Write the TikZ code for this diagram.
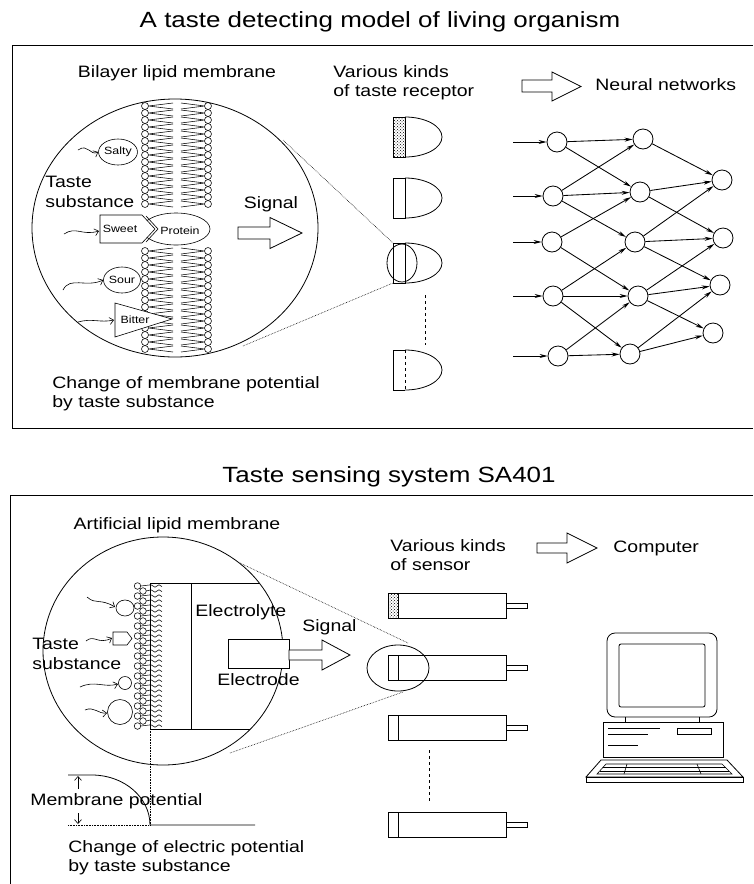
\documentclass[tikz,border=0pt]{standalone}
\usepackage{fontspec}
\setmainfont{Liberation Sans}[FakeStretch=1.18]
\usetikzlibrary{arrows.meta,patterns,shapes.geometric}

\begin{document}
\begin{tikzpicture}[x=1pt,y=-1pt,
  line width=0.8pt,
  lbl/.style={font=\fontsize{16.5}{19.5}\selectfont, inner sep=0pt, align=left},
  ttl/.style={font=\fontsize{22}{26}\selectfont, inner sep=0pt},
  tag/.style={font=\fontsize{10.5}{12}\selectfont, inner sep=0pt},
  neuron/.style={circle, draw, line width=0.8pt, minimum size=20pt, inner sep=0pt},
  nn/.style={-{Stealth[length=8pt,width=4pt]}, line width=0.85pt},
  wavy/.style={-{Straight Barb[length=4pt,width=7pt]}, line width=0.6pt},
  zoomline/.style={densely dotted, line width=0.6pt},
  lipid/.style={line width=0.55pt},
  hollow/.style={draw, line width=0.8pt, fill=white},
]
\useasboundingbox (0,0) rectangle (753,884);

% ---------------- titles and frames ----------------
\node[ttl] (title1) at (380,22) {A taste detecting model of living organism};
\node[ttl] (title2) at (389,477) {Taste sensing system SA401};
\draw (753,45) -- (12,45) -- (12,428) -- (753,428);
\draw (753,495) -- (10,495) -- (10,884);

% ================= living organism =================
\draw (175,228) ellipse [x radius=143, y radius=129];
\node[lbl] (bilayer) at (177,73) {Bilayer lipid membrane};

% lipid bilayer, upper and lower patches
\foreach \ya in {106,251}{
  \foreach \k in {0,...,14}{
    \pgfmathsetmacro\yy{\ya+\k*7}
    \draw[lipid] (145,\yy) circle[radius=3.5];
    \draw[lipid] (148.5,\yy) -- (173,\yy-3) (148.5,\yy) -- (173,\yy+3);
    \draw[lipid] (208,\yy) circle[radius=3.5];
    \draw[lipid] (204.5,\yy) -- (181,\yy-3) (204.5,\yy) -- (181,\yy+3);
  }
}

% taste substances
\node[draw, ellipse, minimum width=34pt, minimum height=26pt, inner sep=0pt, line width=0.6pt, tag] (salty) at (118,152) {Salty};
\node[draw, ellipse, minimum width=68pt, minimum height=32pt, inner sep=0pt, line width=0.6pt, fill=white] (protein) at (176,229) {};
\node[tag] (proteintxt) at (180,231) {Protein};
\draw[line width=0.6pt, fill=white] (100,215) -- (142,215) -- (155,229) -- (142,243) -- (100,243) -- cycle;
\draw[line width=0.6pt] (146,216) -- (158,229) -- (146,242);
\node[tag] (sweet) at (120,229) {Sweet};
\node[draw, ellipse, minimum width=34pt, minimum height=26pt, inner sep=0pt, line width=0.6pt, tag] (sour) at (122,280) {Sour};
\draw[line width=0.6pt, fill=white] (115,303) -- (172,319) -- (115,337) -- cycle;
\node[tag] (bitter) at (135,320) {Bitter};

\coordinate (w1) at (78,150);
\coordinate (w2) at (64,234);
\coordinate (w3) at (63,290);
\coordinate (w4) at (78,322);
\draw[wavy] (w1) .. controls (88,143) and (90,156) .. (salty.west);
\draw[wavy] (w2) .. controls (76,226) and (82,236) .. (99,231);
\draw[wavy] (w3) .. controls (70,276) and (86,288) .. (sour.west);
\draw[wavy] (w4) .. controls (92,318) and (100,323) .. (114,320);

\node[lbl, anchor=west] (taste1) at (45,192) {Taste\\substance};

% signal arrow
\draw[hollow] (238,227) -- (270,227) -- (270,217.5) -- (302,233) -- (270,248.5) -- (270,239) -- (238,239) -- cycle;
\node[lbl] (signal1) at (271,204) {Signal};

\node[lbl, anchor=west] (change1) at (52,393.5) {Change of membrane potential\\by taste substance};

% taste receptors
\node[lbl, anchor=west] (receptors) at (333,82.5) {Various kinds\\of taste receptor};
\foreach \ya/\nm in {117/r1,178/r2,243/r3,350/r4}{
  \coordinate (\nm) at (393,\ya);
  \draw (405,\ya) arc[start angle=-90, end angle=90, x radius=37, y radius=20];
}
\fill[pattern=crosshatch dots] (393,117) rectangle (405,157);
\foreach \ya in {117,178,243}{
  \draw (393,\ya) rectangle (405,\ya+40);
}
\draw (393,350) -- (405,350) (393,390) -- (405,390) (393,350) -- (393,390);
\draw[dashed, line width=0.6pt] (405,350) -- (405,390);
\draw (402,263) ellipse [x radius=15, y radius=19];
\draw[dashed] (425,295) -- (425,345);
\draw[zoomline] (283,140) -- (r3);
\draw[zoomline] (243,346) -- (393,283);

% neural network
\draw[hollow] (522,80) -- (552,80) -- (552,72) -- (581,86.5) -- (552,101) -- (552,92) -- (522,92) -- cycle;
\node[lbl, anchor=west] (nnlabel) at (595,85) {Neural networks};

\node[neuron] (a1) at (557,142) {};
\node[neuron] (a2) at (553,196) {};
\node[neuron] (a3) at (552,242) {};
\node[neuron] (a4) at (553,296) {};
\node[neuron] (a5) at (558,356) {};
\node[neuron] (b1) at (643,139) {};
\node[neuron] (b2) at (640,192) {};
\node[neuron] (b3) at (635,242) {};
\node[neuron] (b4) at (638,296) {};
\node[neuron] (b5) at (630,354) {};
\node[neuron] (c1) at (722,180) {};
\node[neuron] (c2) at (723,238) {};
\node[neuron] (c3) at (720,285) {};
\node[neuron] (c4) at (713,333) {};

\foreach \n/\yin in {a1/142,a2/196,a3/242,a4/296,a5/356}{
  \coordinate (in-\n) at (513,\yin);
  \draw[nn] (in-\n) -- (\n);
}
\foreach \src/\dst in {a1/b1,a1/b2,a2/b1,a2/b2,a2/b3,a3/b2,a3/b4,a4/b3,a4/b4,a4/b5,a5/b4,a5/b5,
                   b1/c1,b2/c1,b2/c2,b3/c1,b3/c2,b3/c3,b4/c2,b4/c3,b4/c4,b5/c3,b5/c4}{
  \draw[nn] (\src) -- (\dst);
}

% ================= taste sensing system =================
\draw (163,651) ellipse [x radius=120, y radius=114];
\node[lbl] (artificial) at (177,525) {Artificial lipid membrane};

% sensor body cut by the lens
\begin{scope}
  \clip (163,651) ellipse [x radius=120, y radius=114];
  \draw (150,583) -- (300,583) (150,729) -- (300,729);
\end{scope}
\draw (150,583) -- (150,729);
\draw (191,583) -- (191,729);

% artificial lipid layer
\foreach \k in {0,...,28}{
  \pgfmathsetmacro\yy{586+\k*5}
  \pgfmathsetmacro\xx{isodd(\k) ? 143 : 137.5}
  \draw[lipid] (\xx,\yy) circle[radius=3.3];
  \draw[lipid] (\xx+3.3,\yy) -- (151,\yy-1.2) -- (155,\yy+1.2) -- (159,\yy-1.2) -- (162,\yy+0.6);
}

% substances
\draw[line width=0.6pt, fill=white] (125,608) ellipse [x radius=9, y radius=8];
\draw[line width=0.6pt, fill=white] (113,632) -- (127,632) -- (132,638.5) -- (127,645) -- (113,645) -- cycle;
\draw[line width=0.6pt, fill=white] (125,683) circle[radius=6.5];
\draw[line width=0.6pt, fill=white] (120,712) circle[radius=12.5];
\coordinate (v1) at (87,597);
\coordinate (v2) at (86,641);
\coordinate (v3) at (80,687);
\coordinate (v4) at (85,710);
\draw[wavy] (v1) .. controls (96,605) and (100,598) .. (115,607);
\draw[wavy] (v2) .. controls (94,634) and (98,645) .. (112,638);
\draw[wavy] (v3) .. controls (95,680) and (104,688) .. (118,684);
\draw[wavy] (v4) .. controls (94,706) and (98,714) .. (107,713);

\node[lbl, anchor=west] (taste2) at (32,654) {Taste\\substance};
\node[lbl, anchor=west] (electrolyte) at (195,612) {Electrolyte};
\draw[fill=white] (228,639) rectangle (289,668);
\node[lbl, anchor=west] (electrode) at (217,680) {Electrode};
\draw[hollow] (289,650) -- (322,650) -- (322,640) -- (350,655) -- (322,670) -- (322,660) -- (289,660) -- cycle;
\node[lbl, anchor=west] (signal2) at (302,627) {Signal};

% membrane potential graph
\draw[densely dotted, line width=0.6pt] (150,729) -- (150,825);
\draw (68,775) -- (92,775) .. controls (124,775) and (150,797.4) .. (150,825) -- (255,825);
\draw[densely dotted, line width=0.6pt] (68,825) -- (150,825);
\draw[-{Straight Barb[length=4pt,width=7pt]}, line width=0.6pt] (78,789) -- (78,776);
\draw[-{Straight Barb[length=4pt,width=7pt]}, line width=0.6pt] (78,813) -- (78,824);
\node[lbl, anchor=west] (mpot) at (30,801) {Membrane potential};
\node[lbl, anchor=west] (change2) at (68,857.5) {Change of electric potential\\by taste substance};

% sensors
\node[lbl, anchor=west] (sensors) at (390,555) {Various kinds\\of sensor};
\fill[pattern=crosshatch dots] (388,593) rectangle (398,618);
\foreach \ya/\nm in {593/s1,655/s2,715/s3,812/s4}{
  \coordinate (\nm) at (388,\ya);
  \draw (388,\ya) rectangle (506,\ya+25);
  \draw (398,\ya) -- (398,\ya+25);
  \draw (506,\ya+10) rectangle (527,\ya+15);
}
\draw[dashed] (429,750) -- (429,802);
\draw (398,668) ellipse [x radius=31, y radius=23];
\draw[zoomline] (240,563) -- (408,643);
\draw[zoomline] (230,753) -- (403,692);

% computer
\draw[hollow] (537,543) -- (567,543) -- (567,533) -- (597,548) -- (567,563) -- (567,553) -- (537,553) -- cycle;
\node[lbl, anchor=west] (computer) at (613,548) {Computer};
\draw[rounded corners=8pt] (607,633) rectangle (717,717);
\draw[rounded corners=2pt] (619,644) rectangle (705,707);
\draw (625,717) -- (625,722) (699,717) -- (699,722);
\draw (603,722) rectangle (723,757);
\draw[line width=0.6pt] (608,728) -- (660,728) (608,734) -- (648,734) (608,745) -- (638,745);
\draw (677,728) rectangle (711,734);
\draw (601,760) -- (727,760) -- (743,777) -- (586,777) -- cycle;
\draw (586,777) rectangle (743,782);
\draw[line width=0.6pt] (606,764) -- (722,764) -- (732,774) -- (597,774) -- cycle;
\draw[line width=0.6pt] (603,767.5) -- (725.5,767.5) (600,771) -- (729,771);
\draw[line width=0.6pt] (627,764) -- (624,774) (697,764) -- (701,774);
\end{tikzpicture}
\end{document}
